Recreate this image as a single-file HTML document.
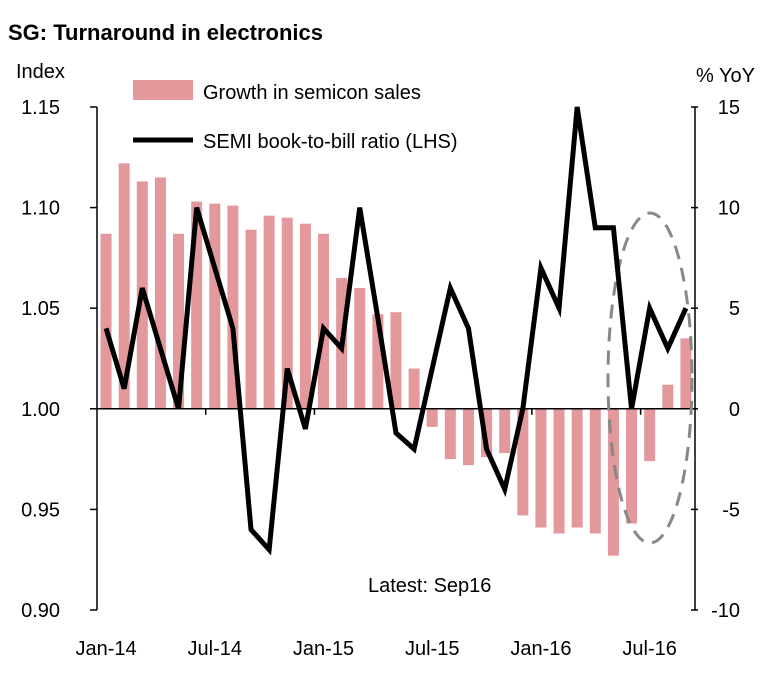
<!DOCTYPE html>
<html><head><meta charset="utf-8"><style>
body{margin:0;background:#fff;width:768px;height:684px;overflow:hidden}
svg text{font-family:"Liberation Sans",sans-serif;fill:#000}
</style></head><body>
<svg id="chart" width="768" height="684" xmlns="http://www.w3.org/2000/svg">
<text x="8" y="40" font-size="22" font-weight="bold">SG: Turnaround in electronics</text>
<text x="16" y="78" font-size="20">Index</text>
<text x="755" y="82" font-size="20" text-anchor="end">% YoY</text>
<g id="bars"></g>
<g id="axes"></g>
<ellipse cx="650" cy="378" rx="42" ry="165" fill="none" stroke="#888" stroke-width="3" stroke-dasharray="14,9"/>
<path id="line" fill="none" stroke="#000" stroke-width="5" stroke-linejoin="miter"/>
<rect x="133" y="80" width="60" height="20" fill="#e3999b"/>
<text x="203" y="99" font-size="20">Growth in semicon sales</text>
<line x1="133" y1="140" x2="193" y2="140" stroke="#000" stroke-width="5"/>
<text x="203" y="148" font-size="20">SEMI book-to-bill ratio (LHS)</text>
<text x="368" y="592" font-size="20">Latest:  Sep16</text>
</svg>
<script>
const growth=[8.7,12.2,11.3,11.5,8.7,10.3,10.2,10.1,8.9,9.6,9.5,9.2,8.7,6.5,6.0,4.7,4.8,2.0,-0.9,-2.5,-2.8,-2.4,-2.2,-5.3,-5.9,-6.2,-5.9,-6.2,-7.3,-5.7,-2.6,1.2,3.5];
const ratio=[1.04,1.01,1.06,1.03,1.00,1.10,1.07,1.04,0.94,0.93,1.02,0.99,1.04,1.03,1.10,1.045,0.988,0.98,1.02,1.06,1.04,0.98,0.96,1.00,1.07,1.05,1.15,1.09,1.09,1.00,1.05,1.03,1.05];
const leftTicks=["1.15","1.10","1.05","1.00","0.95","0.90"];
const rightTicks=["15","10","5","0","-5","-10"];
const xLabels=["Jan-14","Jul-14","Jan-15","Jul-15","Jan-16","Jul-16"];
const NS="http://www.w3.org/2000/svg";
const X0=97,X1=695,STEP=18.12;
const xC=i=>X0+STEP*(i+0.5);
const yL=v=>107+(1.15-v)/0.25*503;
const yR=v=>107+(15-v)/25*503;
function mk(t,a,p){const e=document.createElementNS(NS,t);for(const k in a)e.setAttribute(k,a[k]);p.appendChild(e);return e;}
const bars=document.getElementById('bars'),axes=document.getElementById('axes');
growth.forEach((v,i)=>{
 const r=mk('rect',{x:xC(i)-5.5,y:Math.min(yR(v),yR(0)),width:11,height:Math.abs(yR(v)-yR(0)),fill:'#e3999b'},bars);
 
 
});
let d='';ratio.forEach((v,i)=>{d+=(i?'L':'M')+xC(i)+' '+yL(v)+' ';});
document.getElementById('line').setAttribute('d',d);
mk('line',{x1:X0,y1:107,x2:X0,y2:610,stroke:'#000','stroke-width':1.5},axes);
mk('line',{x1:X1,y1:107,x2:X1,y2:610,stroke:'#000','stroke-width':1.5},axes);
mk('line',{x1:X0,y1:yR(0),x2:X1,y2:yR(0),stroke:'#000','stroke-width':1.5},axes);
leftTicks.forEach((t,i)=>{
 const y=yL(parseFloat(t));
 mk('line',{x1:X0-7,y1:y,x2:X0,y2:y,stroke:'#000','stroke-width':1.5},axes);
 const e=mk('text',{x:60,y:y+7,'font-size':20,'text-anchor':'end'},axes);e.textContent=t;
 
 
});
rightTicks.forEach((t,i)=>{
 const y=yR(parseFloat(t));
 mk('line',{x1:X1-4,y1:y,x2:X1+3,y2:y,stroke:'#000','stroke-width':1.5},axes);
 const e=mk('text',{x:740,y:y+7,'font-size':20,'text-anchor':'end'},axes);e.textContent=t;
 
 
});
xLabels.forEach((t,i)=>{
 const x=xC(i*6);
 if(i>0)mk('line',{x1:X0+STEP*6*i,y1:yR(0),x2:X0+STEP*6*i,y2:yR(0)+6,stroke:'#000','stroke-width':1.5},axes);
 const e=mk('text',{x:x,y:655,'font-size':20,'text-anchor':'middle'},axes);e.textContent=t;
 
 
});
</script>
</body></html>
